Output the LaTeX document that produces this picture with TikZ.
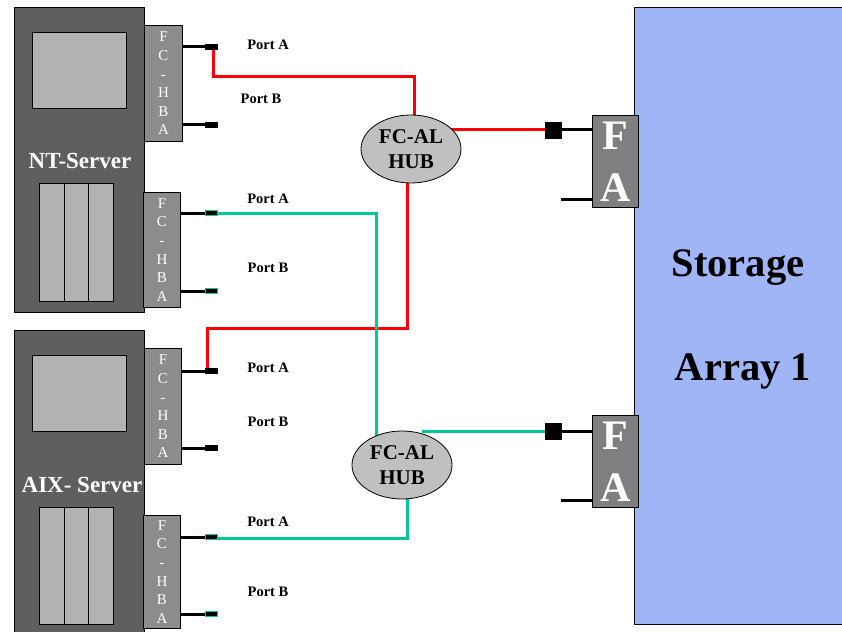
\documentclass[tikz,border=0pt]{standalone}
\usepackage{fontspec}
\setmainfont{Liberation Serif}
\usetikzlibrary{shapes.geometric}
\definecolor{srvgray}{HTML}{5F5F5F}
\definecolor{panelgray}{HTML}{B2B2B2}
\definecolor{hbagray}{HTML}{8C8C8C}
\definecolor{fagray}{HTML}{7F7F7F}
\definecolor{hubgray}{HTML}{C0C0C0}
\definecolor{storblue}{HTML}{A0B5F5}
\definecolor{fcred}{HTML}{FF0000}
\definecolor{fcgreen}{HTML}{00C896}
\tikzset{
  box/.style={draw=black, line width=0.9pt, inner sep=0pt, anchor=north west},
  server/.style={box, fill=srvgray},
  panel/.style={box, fill=panelgray},
  hba/.style={box, fill=hbagray, text=white, align=center, font=\fontsize{15}{18.6}\selectfont},
  fa/.style={box, fill=fagray, text=white, align=center, font=\fontsize{42}{52}\selectfont\bfseries},
  hub/.style={ellipse, draw=black, line width=0.8pt, fill=hubgray, minimum width=100pt, minimum height=68pt, inner sep=0pt, align=center, font=\fontsize{21}{25}\selectfont\bfseries},
  conn/.style={draw=black, fill=black, line width=0.8pt, minimum width=12pt, minimum height=5pt, inner sep=0pt},
  gconn/.style={conn, draw=fcgreen},
  sq/.style={draw=black, fill=black, minimum size=16pt, inner sep=0pt},
  lead/.style={draw=black, line width=3pt},
  redw/.style={draw=fcred, line width=3pt},
  greenw/.style={draw=fcgreen, line width=3pt},
  portlbl/.style={font=\fontsize{14.5}{17}\selectfont\bfseries, inner sep=0pt},
  srvlbl/.style={text=white, font=\fontsize{23}{27}\selectfont\bfseries, inner sep=0pt},
  storlbl/.style={font=\fontsize{40.5}{48}\selectfont\bfseries, inner sep=0pt}
}
\begin{document}
\begin{tikzpicture}[x=1pt, y=-1pt]
\path[use as bounding box] (0,0) rectangle (842,631);
\clip (0,0) rectangle (842,631);
\fill[white] (0,0) rectangle (842,631);

% storage array
\node[box, fill=storblue, minimum width=230pt, minimum height=617pt] (stor) at (634,7) {};
\node[storlbl] (storl1) at (738,268) {Storage};
\node[storlbl] (storl2) at (743,371) {Array 1};

% servers
\node[server, minimum width=130pt, minimum height=305pt] (nt) at (14,7) {};
\node[panel, minimum width=94pt, minimum height=76pt] (ntscr) at (32,32) {};
\node[panel, minimum width=25pt, minimum height=118pt] (ntc1) at (39,183) {};
\node[panel, minimum width=24pt, minimum height=118pt] (ntc2) at (64,183) {};
\node[panel, minimum width=25pt, minimum height=118pt] (ntc3) at (88,183) {};
\node[srvlbl] (ntl) at (80,161) {NT-Server};

\node[server, minimum width=130pt, minimum height=320pt] (aix) at (14,330) {};
\node[panel, minimum width=94pt, minimum height=76pt] (aixscr) at (32,355) {};
\node[panel, minimum width=25pt, minimum height=117pt] (aixc1) at (39,507) {};
\node[panel, minimum width=24pt, minimum height=117pt] (aixc2) at (64,507) {};
\node[panel, minimum width=25pt, minimum height=117pt] (aixc3) at (88,507) {};
\node[srvlbl] (aixl) at (82,485) {AIX- Server};

% HBAs
\node[hba, minimum width=38pt, minimum height=116pt] (hba1) at (144,25) {F\\C\\-\\H\\B\\A};
\node[hba, minimum width=37pt, minimum height=115pt] (hba2) at (143,192) {F\\C\\-\\H\\B\\A};
\node[hba, minimum width=37pt, minimum height=116pt] (hba3) at (144,348) {F\\C\\-\\H\\B\\A};
\node[hba, minimum width=37pt, minimum height=113pt] (hba4) at (143,515) {F\\C\\-\\H\\B\\A};

% port connectors
\node[conn] (c1a) at (211.5,47) {};
\node[conn] (c1b) at (211.5,125) {};
\node[gconn] (c2a) at (211.5,213) {};
\node[gconn] (c2b) at (211.5,291) {};
\node[conn] (c3a) at (211.5,371) {};
\node[conn] (c3b) at (211.5,448) {};
\node[gconn] (c4a) at (211.5,537) {};
\node[gconn] (c4b) at (211.5,614) {};

\foreach \h/\c in {hba1/c1a, hba1/c1b, hba2/c2a, hba2/c2b, hba3/c3a, hba3/c3b, hba4/c4a, hba4/c4b}
  \draw[lead] (\h.east |- \c.center) -- (\c.west);

% port labels
\node[portlbl] (p1a) at (268,45) {Port A};
\node[portlbl] (p1b) at (261,99) {Port B};
\node[portlbl] (p2a) at (268,199) {Port A};
\node[portlbl] (p2b) at (268,268) {Port B};
\node[portlbl] (p3a) at (268,368) {Port A};
\node[portlbl] (p3b) at (268,422) {Port B};
\node[portlbl] (p4a) at (268,522) {Port A};
\node[portlbl] (p4b) at (268,592) {Port B};

% FA ports and squares
\node[sq] (sq1) at (553,130) {};
\node[sq] (sq2) at (553,431) {};
\node[fa, minimum width=46pt, minimum height=92pt] (fa1) at (592,115) {F\\A};
\node[fa, minimum width=46pt, minimum height=92pt] (fa2) at (592,415) {F\\A};
\coordinate (fa1b) at (561,199);
\coordinate (fa2b) at (561,500);
\draw[lead] (sq1.east) -- (fa1.west |- sq1.east);
\draw[lead] (fa1b) -- (fa1.west |- fa1b);
\draw[lead] (sq2.east) -- (fa2.west |- sq2.east);
\draw[lead] (fa2b) -- (fa2.west |- fa2b);

% hub coordinates
\coordinate (hub1c) at (411,149);
\coordinate (hub2c) at (402,465);

% red links
\coordinate (r1) at (414,77);
\coordinate (r2) at (407,328);
\coordinate (r3) at (207,328);
\draw[redw, line join=miter] ([xshift=1.5pt]c1a.center) -- ([xshift=1.5pt]c1a.center |- r1) -- (r1) -- (r1 |- hub1c);
\draw[redw] (hub1c |- sq1.west) -- (sq1.west);
\draw[redw] (r2 |- hub1c) -- (r2) -- (r3) -- (r3 |- c3a.center);

% green links
\coordinate (g1) at (376,213);
\coordinate (g2) at (422,431);
\coordinate (g3) at (407,538);
\draw[greenw] (c2a.east) -- (g1) -- (g1 |- hub2c);
\draw[greenw] (g2) -- (sq2.west);
\draw[greenw] (g3 |- hub2c) -- (g3) -- (c4a.east |- g3);

% redraw connectors on top of link ends
\node[conn] at (c1a) {};
\node[conn] at (c3a) {};
\node[gconn] at (c2a) {};
\node[gconn] at (c4a) {};

% hubs
\node[hub] (hub1) at (hub1c) {FC-AL\\HUB};
\node[hub] (hub2) at (hub2c) {FC-AL\\HUB};
\end{tikzpicture}
\end{document}
